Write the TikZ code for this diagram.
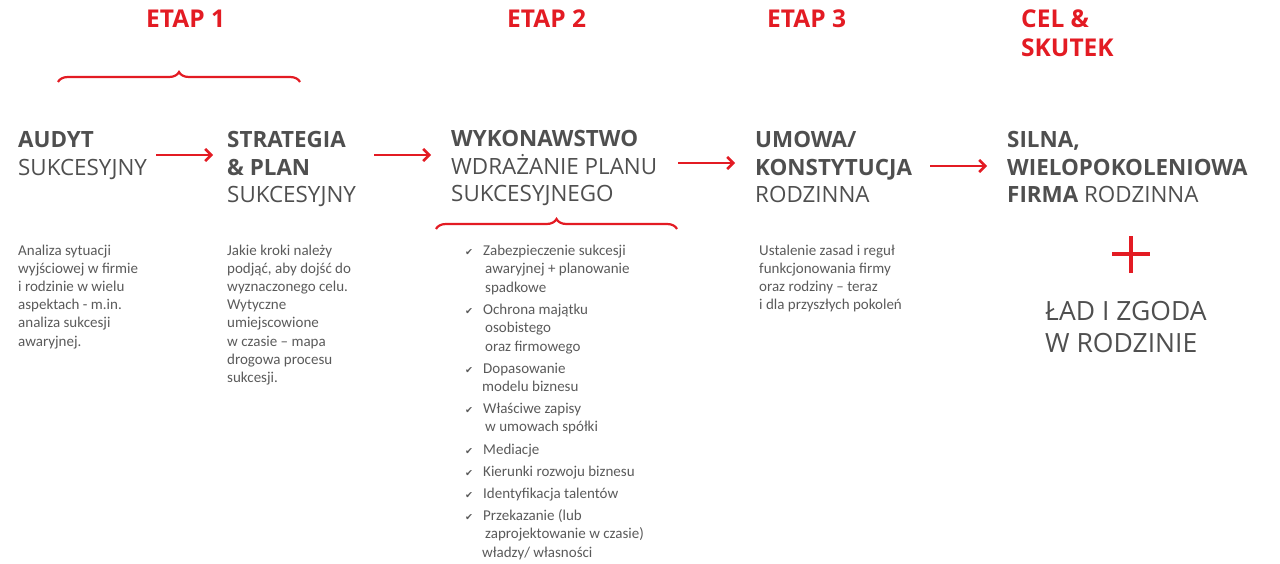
\documentclass[tikz,border=0pt]{standalone}
\usepackage{fontspec}
\setmainfont{Carlito}
\newfontfamily\headfont{Open Sans}
\newfontfamily\symfont{DejaVu Sans}
\usetikzlibrary{arrows.meta,decorations.pathreplacing}
\definecolor{myred}{HTML}{E31B23}
\definecolor{headgray}{HTML}{4F4F4F}
\definecolor{bodygray}{HTML}{5A5A5A}
\tikzset{
 etap/.style={anchor=base west, inner sep=0pt, font=\headfont\bfseries\fontsize{24.5}{28.5}\selectfont, text=myred, align=left},
 head/.style={anchor=base west, inner sep=0pt, font=\headfont\fontsize{22.4}{27.5}\selectfont, text=headgray, align=left},
 big/.style={anchor=base west, inner sep=0pt, font=\headfont\fontsize{26.5}{32}\selectfont, text=headgray, align=left},
 body/.style={anchor=base west, inner sep=0pt, font=\fontsize{15}{18.2}\selectfont, text=bodygray, align=left},
 item/.style={anchor=base west, inner sep=0pt, font=\fontsize{15}{18.5}\selectfont, text=bodygray, align=left},
 chk/.style={anchor=base, inner sep=0pt, font=\symfont\fontsize{9.5}{9.5}\selectfont, text=bodygray},
 conn/.style={myred, line width=2.6pt, -{Straight Barb[length=6pt,width=12pt]}},
 bracestyle/.style={myred, line width=2.2pt, decorate, decoration={brace, amplitude=10pt}},
}
\begin{document}
\begin{tikzpicture}[x=1pt,y=-1pt]
\useasboundingbox (0,0) rectangle (1280,564);
% stage titles (anchors at the last line's baseline)
\node[etap] (e1) at (146,28) {ETAP 1};
\node[etap] (e2) at (507,28) {ETAP 2};
\node[etap] (e3) at (767,28) {ETAP 3};
\node[etap] (e4) at (1021,56.5) {CEL \&\\SKUTEK};
% braces
\coordinate (b1l) at (58,82);
\coordinate (b1r) at (300,82);
\draw[bracestyle] (b1l) -- (b1r);
\coordinate (b2l) at (436,229);
\coordinate (b2r) at (677,229);
\draw[bracestyle] (b2l) -- (b2r);
% headings
\node[head] (h1) at (18,175.5) {\textbf{AUDYT}\\SUKCESYJNY};
\node[head] (h2) at (227,203) {\textbf{STRATEGIA}\\\textbf{\& PLAN}\\SUKCESYJNY};
\node[head] (h3) at (451,202) {\textbf{WYKONAWSTWO}\\WDRAŻANIE PLANU\\SUKCESYJNEGO};
\node[head] (h4) at (755,203) {\textbf{UMOWA/}\\\textbf{KONSTYTUCJA}\\RODZINNA};
\node[head] (h5) at (1007,203) {\textbf{SILNA,}\\\textbf{WIELOPOKOLENIOWA}\\\textbf{FIRMA} RODZINNA};
% arrows
\coordinate (a1s) at (156,155); \coordinate (a1e) at (213,155);
\coordinate (a2s) at (374,155); \coordinate (a2e) at (431,155);
\coordinate (a3s) at (678,163); \coordinate (a3e) at (735,163);
\coordinate (a4s) at (930,166); \coordinate (a4e) at (987,166);
\draw[conn] (a1s) -- (a1e);
\draw[conn] (a2s) -- (a2e);
\draw[conn] (a3s) -- (a3e);
\draw[conn] (a4s) -- (a4e);
% plus
\coordinate (pc) at (1131,254.5);
\draw[myred, line width=4pt] ([xshift=-19pt]pc) -- ([xshift=19pt]pc);
\draw[myred, line width=4pt] ([yshift=-18.5pt]pc) -- ([yshift=18.5pt]pc);
\node[big] (lad) at (1045,352) {ŁAD I ZGODA\\W RODZINIE};
% descriptions
\node[body] (d1) at (18,346) {Analiza sytuacji\\wyjściowej w firmie\\i rodzinie w wielu\\aspektach - m.in.\\analiza sukcesji\\awaryjnej.};
\node[body] (d2) at (227,382.4) {Jakie kroki należy\\podjąć, aby dojść do\\wyznaczonego celu.\\Wytyczne\\umiejscowione\\w czasie – mapa\\drogowa procesu\\sukcesji.};
\node[body] (d4) at (759,309.6) {Ustalenie zasad i reguł\\funkcjonowania firmy\\oraz rodziny – teraz\\i dla przyszłych pokoleń};
% checklist
\node[item] (l1) at (483,292) {Zabezpieczenie sukcesji\\\hspace*{2pt}awaryjnej + planowanie\\\hspace*{2pt}spadkowe};
\node[item] (l2) at (483,351) {Ochrona majątku\\\hspace*{2pt}osobistego\\\hspace*{2pt}oraz firmowego};
\node[item] (l3) at (483,391.5) {Dopasowanie\\\hspace*{-1pt}modelu biznesu};
\node[item] (l4) at (483,431.5) {Właściwe zapisy\\\hspace*{2pt}w umowach spółki};
\node[item] (l5) at (483,454) {Mediacje};
\node[item] (l6) at (483,476) {Kierunki rozwoju biznesu};
\node[item] (l7) at (483,498) {Identyfikacja talentów};
\node[item] (l8) at (483,557) {Przekazanie (lub\\\hspace*{2pt}zaprojektowanie w czasie)\\\hspace*{-1pt}władzy/ własności};
\foreach \y [count=\i] in {255,314,373,413,454,476,498,520}{
  \node[chk] (c\i) at (469,\y) {✔};
}
\end{tikzpicture}
\end{document}
